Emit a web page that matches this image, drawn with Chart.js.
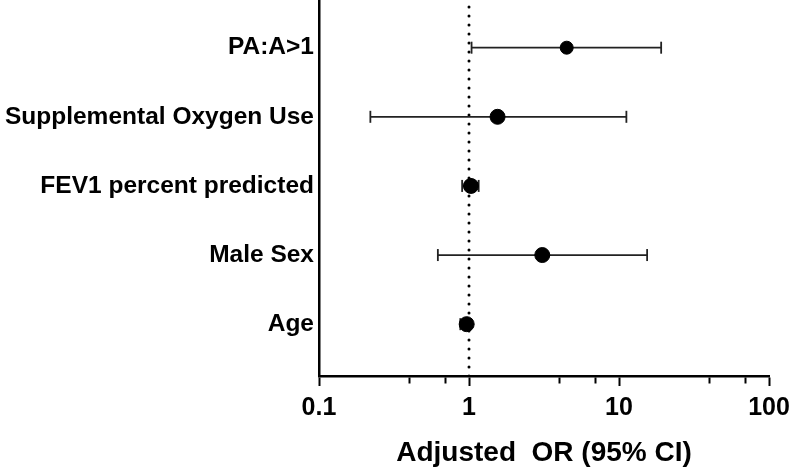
<!DOCTYPE html>
<html><head><meta charset="utf-8">
<script src="https://cdn.jsdelivr.net/npm/chart.js@4"></script>
<style>html,body{margin:0;padding:0;background:#fff}#wrap{width:789px;height:468px;position:relative}</style>
</head><body><div id="wrap"><canvas id="c"></canvas></div>
<script>
const categories = ['Age', 'Male Sex', 'FEV1 percent predicted', 'Supplemental Oxygen Use', 'PA:A>1'];
const orValues = [0.965, 3.08, 1.03, 1.55, 4.48];
const ciLow = [0.875, 0.62, 0.90, 0.22, 1.04];
const ciHigh = [1.02, 15.4, 1.16, 11.2, 19.1];
const majorTicks = [0.1, 1, 10, 100];
const minorTicks = [0.4, 0.7, 4, 7, 40, 70];
const referenceValue = 1;
const xTitle = 'Adjusted  OR (95% CI)';

const FONT = "'Liberation Sans', Arial, Helvetica, sans-serif";
const Y_MIN = -0.75, Y_MAX = 4.69;

const datasets = [];
datasets.push({
  type: 'line',
  data: [{x: referenceValue, y: Y_MIN}, {x: referenceValue, y: Y_MAX}],
  borderColor: '#000', borderWidth: 3, borderDash: [0, 9], borderCapStyle: 'round',
  pointRadius: 0, order: 3
});
categories.forEach((c, i) => {
  datasets.push({
    type: 'line',
    data: [{x: ciLow[i], y: i}, {x: ciHigh[i], y: i}],
    borderColor: '#222', borderWidth: 1.8,
    pointStyle: 'line', rotation: 90, pointRadius: 6, pointBorderWidth: 1.8,
    pointBorderColor: '#222', pointHoverRadius: 6, order: 2
  });
});
datasets.push({
  type: 'scatter',
  data: categories.map((c, i) => ({x: orValues[i], y: i})),
  backgroundColor: '#000', borderColor: '#000',
  pointRadius: ctx => (ctx.dataIndex === 4 ? 6.5 : 7.5),
  order: 1
});

new Chart(document.getElementById('c'), {
  type: 'scatter',
  data: {datasets},
  options: {
    responsive: true, maintainAspectRatio: false, animation: false,
    layout: {autoPadding: false, padding: {left: 0, right: 20, top: 0, bottom: 0}},
    plugins: {legend: {display: false}, tooltip: {enabled: false}},
    scales: {
      x: {
        type: 'logarithmic', min: 0.1, max: 100,
        afterBuildTicks: s => {
          s.ticks = majorTicks.concat(minorTicks).sort((a, b) => a - b)
            .map(v => ({value: v, major: majorTicks.includes(v)}));
        },
        afterFit: s => { s.height = 92; s.paddingLeft = 0; s.paddingRight = 0; },
        ticks: {
          autoSkip: false, maxRotation: 0, color: '#000', padding: 7,
          font: {family: FONT, weight: 'bold', size: 25},
          callback: (v) => majorTicks.includes(v) ? String(v) : ''
        },
        grid: {
          drawOnChartArea: false, drawTicks: true, tickLength: 10,
          tickColor: '#000', tickWidth: 2,
          tickBorderDash: ctx => (ctx.tick && ctx.tick.major) ? [] : [6, 100]
        },
        border: {display: true, color: '#000', width: 2.5},
        title: {
          display: true, text: xTitle, color: '#000',
          font: {family: FONT, weight: 'bold', size: 28, lineHeight: 1},
          padding: {top: 0, bottom: 1}
        }
      },
      y: {
        type: 'linear', min: Y_MIN, max: Y_MAX,
        afterBuildTicks: s => { s.ticks = categories.map((c, i) => ({value: i})); },
        afterFit: s => { s.width = 319; s.paddingTop = 0; s.paddingBottom = 0; },
        ticks: {
          autoSkip: false, color: '#000', padding: 5,
          font: {family: FONT, weight: 'bold', size: 24.5},
          callback: v => categories[v]
        },
        grid: {display: false, drawTicks: false, tickLength: 0},
        border: {display: true, color: '#000', width: 2.5}
      }
    }
  }
});
</script></body></html>
